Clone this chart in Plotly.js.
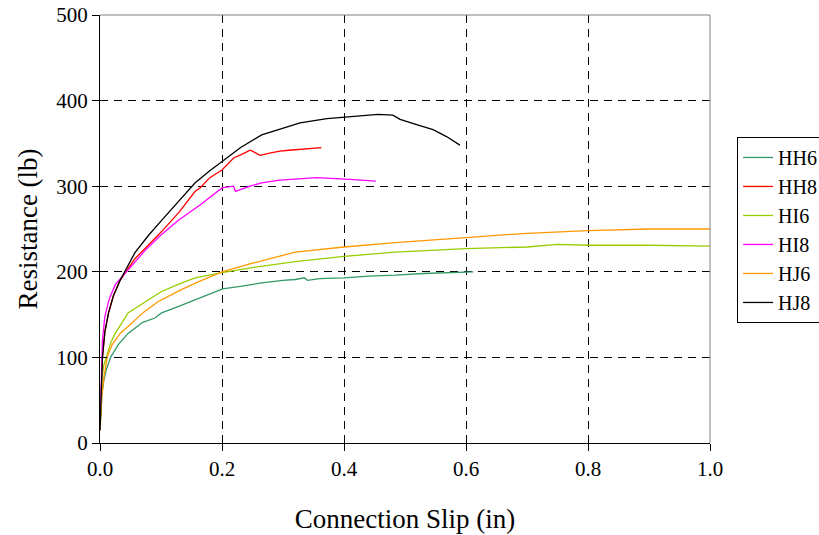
<!DOCTYPE html>
<html>
<head>
<meta charset="utf-8">
<script src="https://cdn.plot.ly/plotly-3.0.1.min.js"></script>
<style>html,body{margin:0;padding:0;background:#fff;}#chart{width:819px;height:535px;}</style>
</head>
<body>
<div id="chart"></div>
<script>
const seriesNames = ["HH6", "HH8", "HI6", "HI8", "HJ6", "HJ8"];

const HH6_x = [0, 0.001, 0.003, 0.006, 0.01, 0.018, 0.03, 0.046, 0.07, 0.09, 0.101, 0.13, 0.156, 0.18, 0.201, 0.23, 0.265, 0.3, 0.32, 0.335, 0.34, 0.36, 0.40, 0.44, 0.484, 0.53, 0.57, 0.612];
const HH6_y = [15, 30, 55, 72, 85, 101, 115, 128, 141, 146, 152, 160, 167, 174, 180, 183, 187, 190, 191, 193, 190, 192, 193, 195, 196, 198, 199, 200];

const HH8_x = [0, 0.001, 0.002, 0.004, 0.008, 0.014, 0.022, 0.033, 0.057, 0.08, 0.101, 0.13, 0.156, 0.164, 0.18, 0.2, 0.219, 0.235, 0.246, 0.25, 0.262, 0.28, 0.295, 0.31, 0.33, 0.363];
const HH8_y = [15, 40, 70, 100, 130, 152, 172, 190, 215, 232, 247, 270, 294, 298, 310, 319, 333, 338, 342, 341, 336, 339, 341, 342, 343, 345];

const HI6_x = [0, 0.001, 0.003, 0.006, 0.011, 0.018, 0.025, 0.046, 0.079, 0.101, 0.13, 0.156, 0.2, 0.25, 0.32, 0.4, 0.484, 0.55, 0.6, 0.7, 0.75, 0.8, 0.9, 1.0];
const HI6_y = [20, 40, 74, 90, 101, 118, 128, 152, 167, 177, 186, 193, 199, 205, 212, 218, 223, 225, 227, 229, 232, 231, 231, 230];

const HI8_x = [0, 0.001, 0.002, 0.004, 0.008, 0.015, 0.025, 0.046, 0.074, 0.1, 0.128, 0.164, 0.2, 0.219, 0.222, 0.246, 0.265, 0.295, 0.355, 0.41, 0.452];
const HI8_y = [15, 50, 90, 120, 148, 168, 185, 202, 225, 243, 260, 278, 298, 300, 294, 300, 304, 307, 310, 308, 306];

const HJ6_x = [0, 0.001, 0.003, 0.006, 0.012, 0.02, 0.033, 0.046, 0.07, 0.095, 0.13, 0.16, 0.2, 0.25, 0.32, 0.4, 0.484, 0.6, 0.7, 0.8, 0.9, 1.0];
const HJ6_y = [15, 35, 54, 75, 101, 115, 128, 136, 152, 165, 178, 188, 200, 210, 223, 229, 234, 240, 245, 248, 250, 250];

const HJ8_x = [0, 0.001, 0.002, 0.004, 0.008, 0.014, 0.022, 0.033, 0.057, 0.08, 0.101, 0.13, 0.156, 0.18, 0.201, 0.23, 0.265, 0.3, 0.328, 0.372, 0.41, 0.437, 0.456, 0.48, 0.492, 0.519, 0.546, 0.568, 0.59];
const HJ8_y = [15, 40, 70, 100, 130, 152, 172, 190, 222, 243, 260, 283, 304, 318, 329, 345, 360, 368, 374, 379, 381, 383, 384, 383, 378, 372, 366, 358, 348];

const xTickVals = [0, 0.2, 0.4, 0.6, 0.8, 1.0];
const xTickText = ["0.0", "0.2", "0.4", "0.6", "0.8", "1.0"];
const yTickVals = [0, 100, 200, 300, 400, 500];

const colors = ["#339966", "#FF0000", "#99CC00", "#FF00FF", "#FF9900", "#000000"];
const xs = [HH6_x, HH8_x, HI6_x, HI8_x, HJ6_x, HJ8_x];
const ys = [HH6_y, HH8_y, HI6_y, HI8_y, HJ6_y, HJ8_y];

const traces = seriesNames.map((n, i) => ({
  x: xs[i], y: ys[i], name: n, type: "scatter", mode: "lines",
  line: {color: colors[i], width: 1.3}
}));
// helper trace so the inside-tick overlay axis is drawn
traces.push({x: [null], y: [null], yaxis: "y2", type: "scatter", mode: "lines", showlegend: false, hoverinfo: "skip"});

const serif = "'Liberation Serif', 'Times New Roman', serif";

const layout = {
  width: 819, height: 535,
  margin: {l: 100, r: 109, t: 15, b: 92},
  paper_bgcolor: "#fff", plot_bgcolor: "#fff",
  font: {family: serif, color: "#000", size: 21},
  showlegend: true,
  legend: {
    xref: "container", yref: "container",
    x: 0.9, xanchor: "left", y: 0.744, yanchor: "top",
    bordercolor: "#000", borderwidth: 1, bgcolor: "#fff",
    font: {family: serif, size: 20, color: "#000"},
    itemwidth: 30
  },
  xaxis: {
    range: [0, 1], tickvals: xTickVals, ticktext: xTickText,
    ticks: "outside", ticklen: 7, tickcolor: "#000",
    showline: true, linecolor: "#000", linewidth: 1,
    showgrid: true, gridcolor: "#000", gridwidth: 1, griddash: "8px,6px",
    zeroline: false,
    title: {text: "Connection Slip (in)", font: {family: serif, size: 27}, standoff: 28},
    tickfont: {family: serif, size: 21}
  },
  yaxis: {
    range: [0, 500], tickvals: yTickVals,
    ticks: "outside", ticklen: 7, tickcolor: "#000",
    showline: true, linecolor: "#000", linewidth: 1,
    showgrid: true, gridcolor: "#000", gridwidth: 1, griddash: "8px,6px",
    zeroline: false,
    title: {text: "Resistance (lb)", font: {family: serif, size: 27}, standoff: 10},
    tickfont: {family: serif, size: 21}
  },
  yaxis2: {
    range: [0, 500], tickvals: yTickVals, overlaying: "y", side: "left",
    ticks: "inside", ticklen: 7, tickcolor: "#000",
    showticklabels: false, showgrid: false, showline: false, zeroline: false
  },
  shapes: [
    {type: "line", xref: "paper", yref: "paper", x0: 0, x1: 1, y0: 1, y1: 1, line: {color: "#808080", width: 1}},
    {type: "line", xref: "paper", yref: "paper", x0: 1, x1: 1, y0: 0, y1: 1, line: {color: "#808080", width: 1}}
  ]
};

Plotly.newPlot("chart", traces, layout, {displayModeBar: false, staticPlot: true});
</script>
</body>
</html>
